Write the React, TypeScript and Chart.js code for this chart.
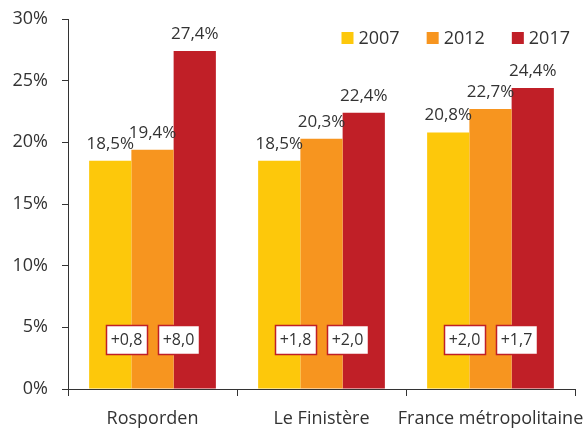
import { useEffect, useRef } from 'react';
import { Chart, registerables } from 'chart.js';

Chart.register(...registerables);

const categories = ['Rosporden', 'Le Finistère', 'France métropolitaine'];
const years = ['2007', '2012', '2017'];
const values2007 = [18.5, 18.5, 20.8];
const values2012 = [19.4, 20.3, 22.7];
const values2017 = [27.4, 22.4, 24.4];
const change2007to2012 = ['+0,8', '+1,8', '+2,0'];
const change2012to2017 = ['+8,0', '+2,0', '+1,7'];
const yTicks = [0, 5, 10, 15, 20, 25, 30];

const COLORS = ['#FDC80B', '#F7951F', '#C01F27'];
const TEXT = '#333333';
const FONT = '"Open Sans", "Noto Sans", sans-serif';

const fmt = (v: number) => v.toFixed(1).replace('.', ',') + '%';

const valueLabels = {
  id: 'valueLabels',
  afterDatasetsDraw(chart: any) {
    const ctx = chart.ctx;
    ctx.save();
    ctx.fillStyle = TEXT;
    ctx.font = `17px ${FONT}`;
    ctx.textAlign = 'center';
    ctx.textBaseline = 'alphabetic';
    chart.data.datasets.forEach((ds: any, di: number) => {
      const meta = chart.getDatasetMeta(di);
      meta.data.forEach((bar: any, i: number) => {
        ctx.fillText(fmt(ds.data[i]), bar.x, bar.y - 12);
      });
    });
    ctx.restore();
  },
};

const changeBoxes = {
  id: 'changeBoxes',
  afterDatasetsDraw(chart: any) {
    const ctx = chart.ctx;
    const mid = chart.getDatasetMeta(1).data;
    const yc = chart.scales.y.getPixelForValue(4);
    const w = 41;
    const h = 29;
    const spread = 26;
    ctx.save();
    ctx.font = `16px ${FONT}`;
    ctx.textAlign = 'center';
    ctx.textBaseline = 'middle';
    categories.forEach((_, i) => {
      const items = [
        { x: mid[i].x - spread, t: change2007to2012[i] },
        { x: mid[i].x + spread, t: change2012to2017[i] },
      ];
      items.forEach((it) => {
        const x0 = Math.round(it.x - w / 2) + 0.5;
        const y0 = Math.round(yc - h / 2) + 0.5;
        ctx.fillStyle = '#ffffff';
        ctx.fillRect(x0, y0, w, h);
        ctx.strokeStyle = COLORS[2];
        ctx.lineWidth = 1.5;
        ctx.strokeRect(x0, y0, w, h);
        ctx.fillStyle = TEXT;
        ctx.fillText(it.t, it.x, yc + 1);
      });
    });
    ctx.restore();
  },
};

const customLegend = {
  id: 'customLegend',
  afterDraw(chart: any) {
    const ctx = chart.ctx;
    ctx.save();
    ctx.font = `18px ${FONT}`;
    ctx.textBaseline = 'alphabetic';
    ctx.textAlign = 'left';
    const box = 12;
    const gapBoxText = 5;
    const gapItems = 27;
    const baseline = 44;
    let x = 570;
    const ds = chart.data.datasets;
    for (let i = ds.length - 1; i >= 0; i--) {
      const label = ds[i].label;
      const tw = ctx.measureText(label).width;
      const tx = x - tw;
      ctx.fillStyle = TEXT;
      ctx.fillText(label, tx, baseline);
      const bx = tx - gapBoxText - box;
      ctx.fillStyle = ds[i].backgroundColor;
      ctx.fillRect(bx, 32, box, box);
      x = bx - gapItems;
    }
    ctx.restore();
  },
};

export default function App() {
  const ref = useRef<HTMLCanvasElement | null>(null);

  useEffect(() => {
    document.body.style.margin = '0';
    const canvas = ref.current;
    if (!canvas) return;
    const chart = new Chart(canvas, {
      type: 'bar',
      data: {
        labels: categories,
        datasets: [values2007, values2012, values2017].map((d, i) => ({
          label: years[i],
          data: d,
          backgroundColor: COLORS[i],
          borderWidth: 0,
          categoryPercentage: 0.75,
          barPercentage: 1,
        })),
      },
      options: {
        responsive: false,
        animation: false,
        devicePixelRatio: 1,
        layout: { padding: { top: 19, right: 12, left: 0, bottom: 0 } },
        plugins: {
          legend: { display: false },
          tooltip: { enabled: false },
        },
        scales: {
          x: {
            grid: {
              display: true,
              offset: true,
              drawOnChartArea: false,
              drawTicks: true,
              tickLength: 7,
              color: TEXT,
            },
            border: { display: true, color: TEXT, width: 1 },
            ticks: {
              color: TEXT,
              font: { family: FONT, size: 18 },
              padding: 12,
              autoSkip: false,
              maxRotation: 0,
            },
            afterFit: (s: any) => {
              s.height = 39;
              s.paddingLeft = 0;
              s.paddingRight = 0;
            },
          },
          y: {
            min: 0,
            max: 30,
            afterBuildTicks: (s: any) => {
              s.ticks = yTicks.map((v) => ({ value: v }));
            },
            grid: {
              display: true,
              drawOnChartArea: false,
              drawTicks: true,
              tickLength: 6,
              color: TEXT,
            },
            border: { display: true, color: TEXT, width: 1 },
            ticks: {
              color: TEXT,
              font: { family: FONT, size: 18 },
              padding: 14,
              callback: (v: any) => v + '%',
            },
            afterFit: (s: any) => {
              s.width = 68;
              s.paddingTop = 0;
              s.paddingBottom = 0;
            },
          },
        },
      },
      plugins: [valueLabels, changeBoxes, customLegend],
    });
    return () => chart.destroy();
  }, []);

  return (
    <div style={{ width: 587, height: 428 }}>
      <canvas ref={ref} width={587} height={428} style={{ display: 'block' }} />
    </div>
  );
}
